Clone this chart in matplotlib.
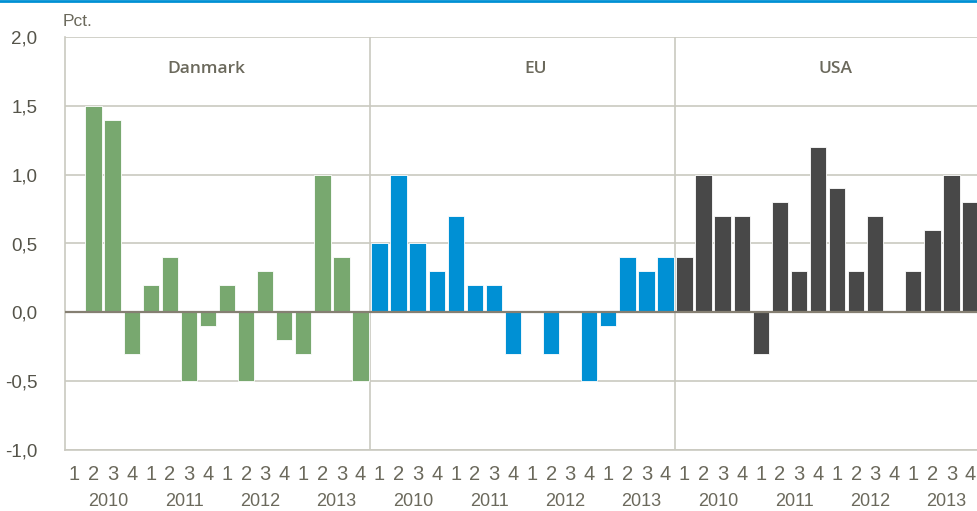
import matplotlib
matplotlib.use('Agg')
import matplotlib.pyplot as plt
from matplotlib.lines import Line2D
import numpy as np

# quarterly growth, pct. (2010Q1 .. 2013Q4)
regions = ['Danmark', 'EU', 'USA']
years = ['2010', '2011', '2012', '2013']
quarters = ['1', '2', '3', '4']

danmark = [0.0, 1.5, 1.4, -0.3, 0.2, 0.4, -0.5, -0.1, 0.2, -0.5, 0.3, -0.2, -0.3, 1.0, 0.4, -0.5]
eu = [0.5, 1.0, 0.5, 0.3, 0.7, 0.2, 0.2, -0.3, 0.0, -0.3, 0.0, -0.5, -0.1, 0.4, 0.3, 0.4]
usa = [0.4, 1.0, 0.7, 0.7, -0.3, 0.8, 0.3, 1.2, 0.9, 0.3, 0.7, 0.0, 0.3, 0.6, 1.0, 0.8]

colors = ['#78a86f', '#0090d4', '#484848']
text_col = '#6b695c'
grid_col = '#cac9c0'
narrow = ['Liberation Sans', 'DejaVu Sans']

fig = plt.figure(figsize=(9.77, 5.11), dpi=100)
ax = fig.add_axes([65 / 977, 61 / 511, 915 / 977, 413 / 511])

n = len(years) * len(quarters)
for i, (vals, col) in enumerate(zip([danmark, eu, usa], colors)):
    x = np.arange(n) + i * n
    ax.bar(x, vals, width=0.86, color=col, edgecolor='white', linewidth=0.6, zorder=3)

ax.set_xlim(-0.5, 3 * n - 0.5)
ax.set_ylim(-1.0, 2.0)
yt = np.arange(-1.0, 2.01, 0.5)
ax.set_yticks(yt)
ax.set_yticklabels([f'{v:.1f}'.replace('.', ',') for v in yt],
                   fontfamily=narrow, fontsize=13.5, color='#55544a')
for v in yt:
    if v != 0:
        ax.axhline(v, color=grid_col, lw=1.2, zorder=1)
ax.axhline(0, color='#857f72', lw=1.6, zorder=4)
for b in [n - 0.5, 2 * n - 0.5]:
    ax.axvline(b, color=grid_col, lw=1.2, zorder=1)

ax.set_xticks(np.arange(3 * n))
ax.set_xticklabels(quarters * (3 * len(years)), fontfamily=narrow, fontsize=14.5, color=text_col)
ax.tick_params(axis='both', length=0)
ax.tick_params(axis='x', pad=11)
ax.tick_params(axis='y', pad=20)

for s in ['top', 'right']:
    ax.spines[s].set_visible(False)
for s in ['left', 'bottom']:
    ax.spines[s].set_color(grid_col)
    ax.spines[s].set_linewidth(1.2)

trans = ax.get_xaxis_transform()
title_x = [6.9, 24.2, 39.9]
for p in range(3):
    for k, yr in enumerate(years):
        ax.text(p * n + k * 4 + 1.75, -0.124, yr, transform=trans, ha='center', va='center',
                fontfamily=narrow, fontsize=13, color=text_col)
    ax.text(title_x[p], 1.77, regions[p], ha='center', va='center',
            fontfamily=['Open Sans', 'DejaVu Sans'], fontsize=12.5, fontweight='semibold',
            color=text_col)

fig.text(63 / 977, 1 - 22 / 511, 'Pct.', ha='left', va='center',
         fontfamily=narrow, fontsize=12.5, color=text_col)
fig.add_artist(Line2D([0, 1], [1 - 1 / 511, 1 - 1 / 511], transform=fig.transFigure,
                      color='#0090d4', lw=2))

fig.savefig('out.png', dpi=100)
